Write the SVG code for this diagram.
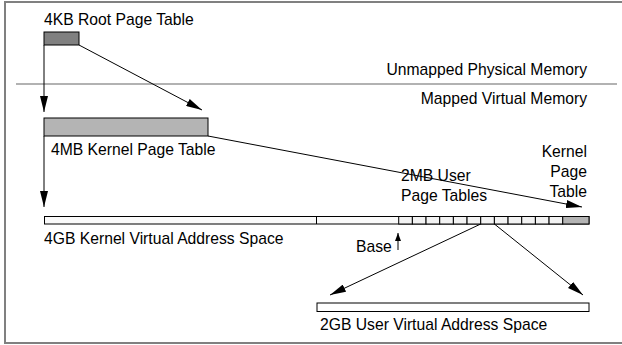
<svg xmlns="http://www.w3.org/2000/svg" width="622" height="345" viewBox="0 0 622 345">
<style>
text{font-family:"Liberation Sans",Arial,sans-serif;font-size:15.7px;fill:#000}
.r{text-anchor:end}
.frame{stroke:#808080;stroke-width:2;fill:none}
.box{stroke:#000;stroke-width:1}
.conn{stroke:#000;stroke-width:1;fill:none}
.cell{fill:#f2f2f2;stroke:#000;stroke-width:1}
</style>
<defs>
<marker id="ah" viewBox="0 0 16 8" refX="16" refY="4" markerWidth="16" markerHeight="8" markerUnits="userSpaceOnUse" orient="auto">
<path d="M0,0 L16,4 L0,8 Z" fill="#000"/>
</marker>
<marker id="ahs" viewBox="0 0 8 6" refX="8" refY="3" markerWidth="8" markerHeight="6" markerUnits="userSpaceOnUse" orient="auto">
<path d="M0,0 L8,3 L0,6 Z" fill="#000"/>
</marker>
</defs>
<g id="frame">
<path class="frame" d="M622,2 H5 V343 H622"/>
<line x1="16" y1="84" x2="617" y2="84" stroke="#999" stroke-width="1.5"/>
<text class="r" x="587" y="75">Unmapped Physical Memory</text>
<text class="r" x="587" y="104">Mapped Virtual Memory</text>
</g>
<g id="root-page-table">
<rect class="box" x="44" y="32" width="35" height="13" fill="#808080"/>
<text x="44" y="25">4KB Root Page Table</text>
</g>
<g id="kernel-page-table">
<rect class="box" x="44" y="118" width="164" height="18" fill="#b4b4b4"/>
<text x="51" y="155">4MB Kernel Page Table</text>
</g>
<g id="kernel-address-space">
<rect class="box" x="44.5" y="216.5" width="544.5" height="7.5" fill="#fafafa"/>
<line class="box" x1="316.5" y1="216.5" x2="316.5" y2="224"/>
<rect class="cell" x="398.7" y="216.5" width="13.67" height="7.5"/>
<rect class="cell" x="412.37" y="216.5" width="13.67" height="7.5"/>
<rect class="cell" x="426.04" y="216.5" width="13.67" height="7.5"/>
<rect class="cell" x="439.71" y="216.5" width="13.67" height="7.5"/>
<rect class="cell" x="453.38" y="216.5" width="13.67" height="7.5"/>
<rect class="cell" x="467.05" y="216.5" width="13.67" height="7.5"/>
<rect class="cell" x="480.72" y="216.5" width="13.67" height="7.5"/>
<rect class="cell" x="494.39" y="216.5" width="13.67" height="7.5"/>
<rect class="cell" x="508.06" y="216.5" width="13.67" height="7.5"/>
<rect class="cell" x="521.73" y="216.5" width="13.67" height="7.5"/>
<rect class="cell" x="535.4" y="216.5" width="13.67" height="7.5"/>
<rect class="cell" x="549.07" y="216.5" width="13.67" height="7.5"/>
<rect class="box" x="562.74" y="216.5" width="26.26" height="7.5" fill="#b4b4b4"/>
<text x="44" y="244">4GB Kernel Virtual Address Space</text>
<text x="401" y="181">2MB User</text>
<text x="401" y="201">Page Tables</text>
<text class="r" x="587" y="157">Kernel</text>
<text class="r" x="587" y="177">Page</text>
<text class="r" x="587" y="197">Table</text>
<text x="356" y="252">Base</text>
</g>
<g id="user-address-space">
<rect class="box" x="317" y="303" width="272" height="8.5" fill="#fff"/>
<text x="320" y="330">2GB User Virtual Address Space</text>
</g>
<g id="connectors">
<line class="conn" x1="44" y1="45" x2="44" y2="112" marker-end="url(#ah)"/>
<line class="conn" x1="79" y1="45" x2="202" y2="110" marker-end="url(#ah)"/>
<line class="conn" x1="44" y1="136" x2="44" y2="207" marker-end="url(#ah)"/>
<line class="conn" x1="208" y1="136" x2="582" y2="207" marker-end="url(#ah)"/>
<line class="conn" x1="480.7" y1="224" x2="330" y2="295" marker-end="url(#ah)"/>
<line class="conn" x1="494.4" y1="224" x2="583" y2="295" marker-end="url(#ah)"/>
<line class="conn" x1="398" y1="250" x2="398" y2="233" marker-end="url(#ahs)"/>
</g>
</svg>
